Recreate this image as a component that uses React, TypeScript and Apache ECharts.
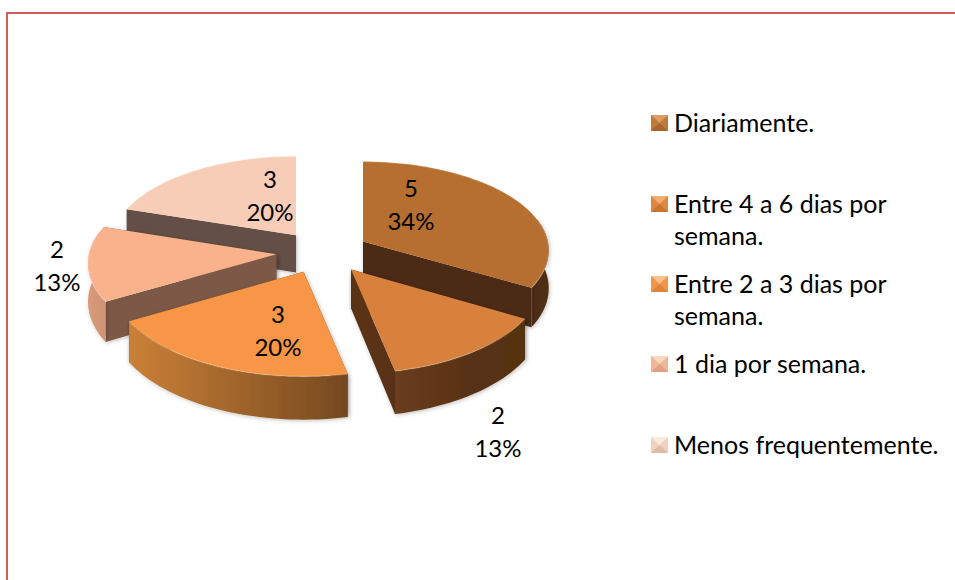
import React, { useEffect, useRef } from "react";
import * as echarts from "echarts";

const categories = ["Diariamente.", "Entre 4 a 6 dias por\nsemana.", "Entre 2 a 3 dias por\nsemana.", "1 dia por semana.", "Menos frequentemente."];
const values = [5, 2, 3, 2, 3];
const percentLabels = ["34%", "13%", "20%", "13%", "20%"];

const topColors = ["#b76f31", "#d8813c", "#f79646", "#f9b28b", "#f8cdb8"];
const radialWallColors = ["#4c2b12", "#5a3317", "#7a4e24", "#7b5846", "#645044"];
const rimGradients = [
  ["#4c2b12", "#4f2e13"],
  ["#6a3d1b", "#5a3317", "#55310f"],
  ["#cb8038", "#75491f"],
  ["#d99b7a", "#cf9272"],
  ["#a08272", "#645044"],
];
const paintOrder = [4, 3, 0, 1, 2];
const labelCenters = [[411, 204], [498, 431], [278, 330], [57, 265], [270, 195]];
const legendYs = [123, 204, 284, 364, 445];
const swatchColors = [
  ["#dc9c62", "#a8652c", "#bd7a3a"],
  ["#f4ad70", "#c8752f", "#dc8843"],
  ["#fcc088", "#dd853c", "#f0964a"],
  ["#fcd8c0", "#e0a282", "#f0b698"],
  ["#fdeade", "#dfbca8", "#f0d0bf"],
];

const CX = 323, CY = 252, R = 187, RY = 90, PERSP = 0.1, DEPTH = 38, EXPLODE_X = 0.25, EXPLODE_Y = 0.235;
const FONT = "Lato";

const scaleAt = (Y: number) => 1 / (1 - PERSP * Y);
function project(ax: number, ay: number, dx: number, dy: number, z: number) {
  const Y = ay + dy;
  const s = scaleAt(Y);
  return [CX + ax * R * scaleAt(ay) + dx * R * s, CY + Y * RY * s + z * DEPTH * s];
}
const rad = (d: number) => (d * Math.PI) / 180;

function arcPoints(ax: number, ay: number, a0: number, a1: number, z: number) {
  const pts: number[][] = [];
  const n = Math.max(2, Math.ceil(Math.abs(a1 - a0) / 2));
  for (let i = 0; i <= n; i++) {
    const t = rad(a0 + ((a1 - a0) * i) / n);
    pts.push(project(ax, ay, Math.sin(t), -Math.cos(t), z));
  }
  return pts;
}

export default function App() {
  const ref = useRef<HTMLDivElement>(null);
  useEffect(() => {
    document.body.style.margin = "0";
    const chart = echarts.init(ref.current!, null, { renderer: "svg" });
    const total = values.reduce((a, b) => a + b, 0);

    const renderItem = (params: any, api: any) => {
      const i = params.dataIndex;
      const before = values.slice(0, i).reduce((a, b) => a + b, 0);
      const a0 = (before / total) * 360;
      const a1 = a0 + (api.value(0) / total) * 360;
      const mid = rad((a0 + a1) / 2);
      const ax = Math.sin(mid) * EXPLODE_X;
      const ay = -Math.cos(mid) * EXPLODE_Y;
      const base = (paintOrder.indexOf(i) + 1) * 10;
      const apexT = project(ax, ay, 0, 0, 0);
      const apexB = project(ax, ay, 0, 0, 1);
      const children: any[] = [];
      const wall = (a: number, z2: number) => {
        const t = rad(a);
        const rimT = project(ax, ay, Math.sin(t), -Math.cos(t), 0);
        const rimB = project(ax, ay, Math.sin(t), -Math.cos(t), 1);
        children.push({
          type: "polygon",
          z2,
          shape: { points: [apexT, rimT, rimB, apexB] },
          style: { fill: radialWallColors[i], shadowBlur: 4, shadowColor: "rgba(0,0,0,0.25)", shadowOffsetX: 1, shadowOffsetY: 1 },
        });
      };
      const frontFirst = -Math.cos(rad(a0)) < -Math.cos(rad(a1));
      wall(a0, base + (frontFirst ? 0 : 1));
      wall(a1, base + (frontFirst ? 1 : 0));
      const r0 = Math.max(a0, 75), r1 = Math.min(a1, 285);
      if (r1 > r0) {
        const upper = arcPoints(ax, ay, r0, r1, 0);
        const lower = arcPoints(ax, ay, r1, r0, 1);
        const stops = rimGradients[i];
        children.push({
          type: "polygon",
          z2: base + 2,
          shape: { points: upper.concat(lower) },
          style: {
            fill: new echarts.graphic.LinearGradient(0, 0, 1, 0, stops.map((c, k) => ({ offset: k / (stops.length - 1), color: c }))),
            shadowBlur: 4,
            shadowColor: "rgba(0,0,0,0.25)",
            shadowOffsetX: 1,
            shadowOffsetY: 1,
          },
        });
      }
      const rim = arcPoints(ax, ay, a0, a1, 0);
      children.push({
        type: "polygon",
        z2: base + 3,
        shape: { points: [apexT].concat(rim) },
        style: { fill: topColors[i] },
      });
      children.push({
        type: "polyline",
        z2: base + 4,
        shape: { points: rim },
        style: { fill: "none", stroke: "rgba(255,255,255,0.18)", lineWidth: 1.5 },
      });
      const [lx, ly] = labelCenters[i];
      children.push({
        type: "text",
        z2: 200,
        style: {
          x: lx,
          y: ly,
          text: `${api.value(0)}\n${percentLabels[i]}`,
          font: `24px ${FONT}`,
          lineHeight: 33,
          fill: "#000",
          align: "center",
          verticalAlign: "middle",
        },
      });
      return { type: "group", children };
    };

    const graphic: any[] = [
      { type: "rect", shape: { x: 6, y: 12, width: 949, height: 2 }, style: { fill: "#cf5c59" } },
      { type: "rect", shape: { x: 6, y: 12, width: 2, height: 568 }, style: { fill: "#cf5c59" } },
    ];
    categories.forEach((name, i) => {
      const y = legendYs[i];
      const x0 = 651, x1 = 668, y0 = y - 8, y1 = y + 8, mx = (x0 + x1) / 2, my = y;
      const c = swatchColors[i];
      graphic.push(
        { type: "rect", shape: { x: x0, y: y0, width: x1 - x0, height: y1 - y0 }, style: { fill: c[2] } },
        { type: "polygon", shape: { points: [[x0, y0], [x1, y0], [mx, my]] }, style: { fill: c[0] } },
        { type: "polygon", shape: { points: [[x0, y1], [x1, y1], [mx, my]] }, style: { fill: c[1] } }
      );
      graphic.push({
        type: "text",
        style: {
          x: 674,
          y: y - 17,
          text: name,
          font: `25px ${FONT}`,
          lineHeight: 32,
          fill: "#000",
          align: "left",
          verticalAlign: "top",
        },
      });
    });

    chart.setOption({
      animation: false,
      backgroundColor: "#fff",
      graphic,
      series: [
        {
          type: "custom",
          coordinateSystem: "none",
          renderItem,
          data: values.map((v, i) => ({ value: [v], name: categories[i] })),
          silent: true,
        },
      ],
    });
    return () => chart.dispose();
  }, []);
  return <div ref={ref} style={{ position: "absolute", left: 0, top: 0, width: 955, height: 580 }} />;
}
